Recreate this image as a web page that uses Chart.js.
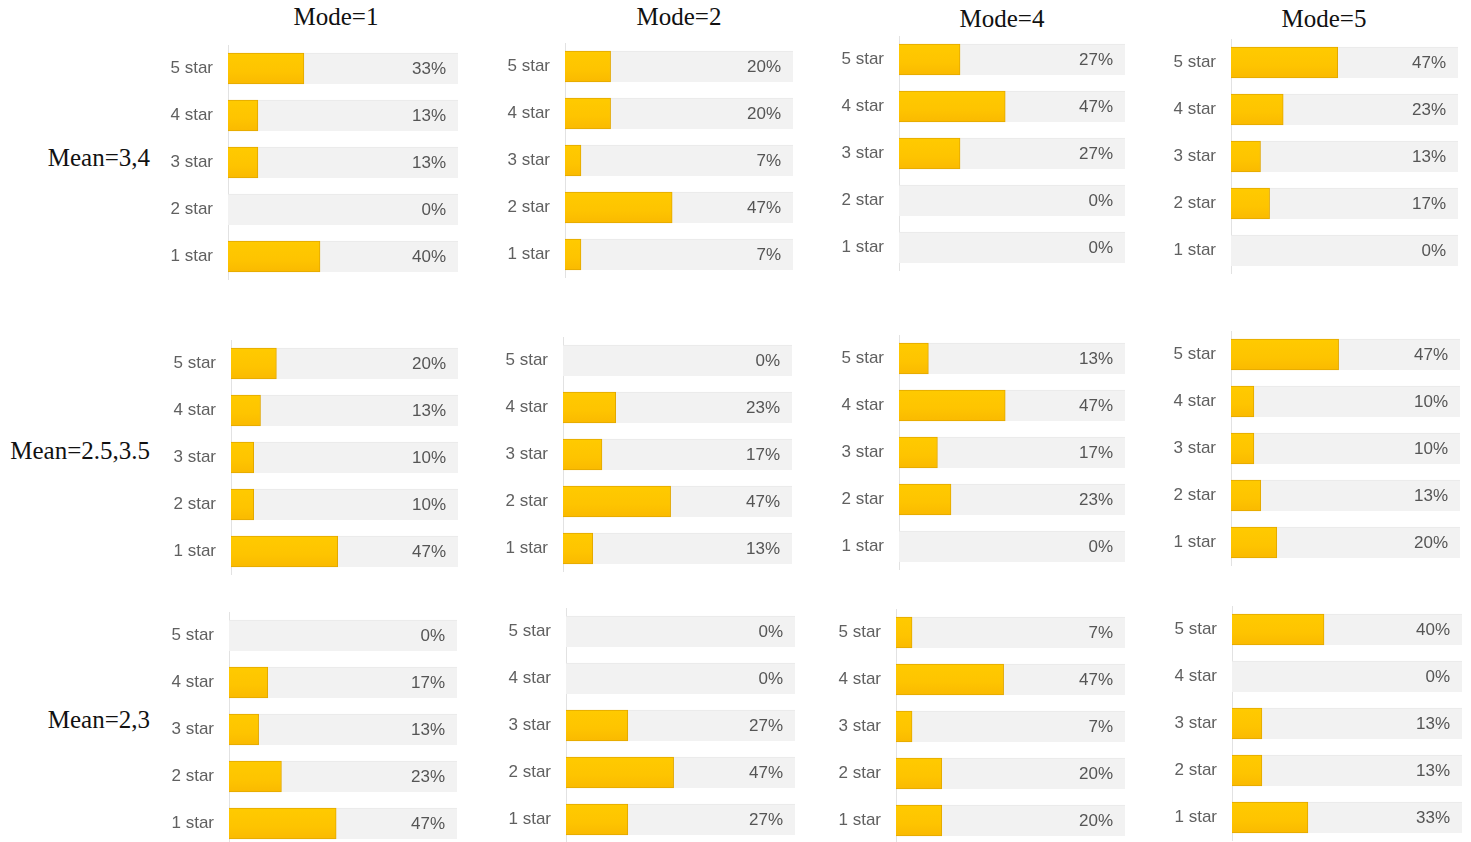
<!DOCTYPE html>
<html>
<head>
<meta charset="utf-8">
<script src="https://cdn.jsdelivr.net/npm/chart.js@4/dist/chart.umd.min.js"></script>
<style>
  body { margin: 0; background: #fff; width: 1471px; height: 842px; position: relative; overflow: hidden; }
  .title { position: absolute; font: 25px "Liberation Serif", serif; color: #111; white-space: nowrap; transform: translate(-50%, -50%); }
  .mean { position: absolute; font: 25px "Liberation Serif", serif; color: #111; white-space: nowrap; transform: translate(-100%, -50%); }
  canvas { position: absolute; }
</style>
</head>
<body>
<script>
// column / row headings
const modes = ['Mode=1', 'Mode=2', 'Mode=4', 'Mode=5'];
const means = ['Mean=3,4', 'Mean=2.5,3.5', 'Mean=2,3'];
const starLabels = ['5 star', '4 star', '3 star', '2 star', '1 star'];

// percentages per panel, one list per mode (5 star .. 1 star)
const mean34 = [
    [33, 13, 13, 0, 40],
    [20, 20, 7, 47, 7],
    [27, 47, 27, 0, 0],
    [47, 23, 13, 17, 0]
];
const mean25_35 = [
    [20, 13, 10, 10, 47],
    [0, 23, 17, 47, 13],
    [13, 47, 17, 23, 0],
    [47, 10, 10, 13, 20]
];
const mean23 = [
    [0, 17, 13, 23, 47],
    [0, 0, 27, 47, 27],
    [7, 47, 7, 20, 20],
    [40, 0, 13, 13, 33]
];
const rows = [mean34, mean25_35, mean23];

// layout of the panels: axis x, right end of track, centre of first bar
const panelPos = [
    [[228, 458, 68], [565, 793, 66], [899, 1125, 59], [1231, 1458, 62]],
    [[231, 458, 363], [563, 792, 360], [899, 1125, 358], [1231, 1460, 354]],
    [[229, 457, 635], [566, 795, 631], [896, 1125, 632], [1232, 1462, 629]]
];
const titlePos = [[336, 17], [679, 17], [1002, 19], [1324, 19]];
const meanPos = [[150, 158], [150, 451], [150, 720]];

const ROW_STEP = 47;
const LABEL_W = 80;

// headings as plain text
modes.forEach((m, i) => {
    let d = document.createElement('div');
    d.className = 'title';
    d.textContent = m;
    d.style.left = titlePos[i][0] + 'px';
    d.style.top = titlePos[i][1] + 'px';
    document.body.appendChild(d);
});
means.forEach((m, i) => {
    let d = document.createElement('div');
    d.className = 'mean';
    d.textContent = m;
    d.style.left = meanPos[i][0] + 'px';
    d.style.top = meanPos[i][1] + 'px';
    document.body.appendChild(d);
});

// yellow gradient per bar
function barFill(ctx) {
    const chart = ctx.chart;
    if (!chart.scales || !chart.scales.y) return '#FDC200';
    const y = chart.scales.y.getPixelForValue(ctx.dataIndex);
    if (!isFinite(y)) return '#FDC200';
    const g = chart.ctx.createLinearGradient(0, y - 15, 0, y + 15);
    g.addColorStop(0, '#FFCA00');
    g.addColorStop(0.6, '#FEC400');
    g.addColorStop(1, '#FABA00');
    return g;
}

// percent text at the right end of each track
const percentLabels = {
    id: 'percentLabels',
    afterDatasetsDraw(chart) {
        const ctx = chart.ctx;
        const meta = chart.getDatasetMeta(0);
        const values = chart.data.datasets[0].data;
        ctx.save();
        ctx.font = '17px "Liberation Sans", Arial, sans-serif';
        ctx.fillStyle = '#555';
        ctx.textAlign = 'right';
        ctx.textBaseline = 'middle';
        meta.data.forEach((bar, i) => {
            ctx.fillText(values[i] + '%', chart.chartArea.right - 12, bar.y + 1);
        });
        ctx.restore();
    }
};

function makePanel(values, pos) {
    const [axisX, rightX, firstY] = pos;
    const cv = document.createElement('canvas');
    const w = LABEL_W + (rightX - axisX);
    const h = ROW_STEP * starLabels.length;
    cv.width = w;
    cv.height = h;
    cv.style.left = (axisX - LABEL_W) + 'px';
    cv.style.top = Math.round(firstY - ROW_STEP / 2) + 'px';
    document.body.appendChild(cv);

    new Chart(cv.getContext('2d'), {
        type: 'bar',
        data: {
            labels: starLabels,
            datasets: [{
                data: values,
                backgroundColor: barFill,
                borderColor: '#E2A800',
                borderWidth: 1,
                borderSkipped: 'start',
                barThickness: 31
            }, {
                data: starLabels.map(() => 100),
                backgroundColor: '#F2F2F2',
                borderColor: '#E9E9E9',
                borderWidth: { top: 1, right: 0, bottom: 0, left: 0 },
                barThickness: 31
            }]
        },
        options: {
            indexAxis: 'y',
            responsive: false,
            animation: false,
            layout: { padding: 0 },
            plugins: { legend: { display: false }, tooltip: { enabled: false } },
            datasets: { bar: { grouped: false } },
            scales: {
                x: { display: false, min: 0, max: 100 },
                y: {
                    afterFit: (scale) => {
                        scale.width = LABEL_W;
                        // tick padding should only push labels sideways
                        scale.paddingTop = 0;
                        scale.paddingBottom = 0;
                    },
                    grid: { display: false, drawTicks: false },
                    border: { display: true, color: '#E2E2E2', width: 1 },
                    ticks: {
                        color: '#606060',
                        padding: 15,
                        font: { family: '"Liberation Sans", Arial, sans-serif', size: 17 }
                    }
                }
            }
        },
        plugins: [percentLabels]
    });
}

rows.forEach((row, r) => {
    row.forEach((values, c) => makePanel(values, panelPos[r][c]));
});
</script>
</body>
</html>
